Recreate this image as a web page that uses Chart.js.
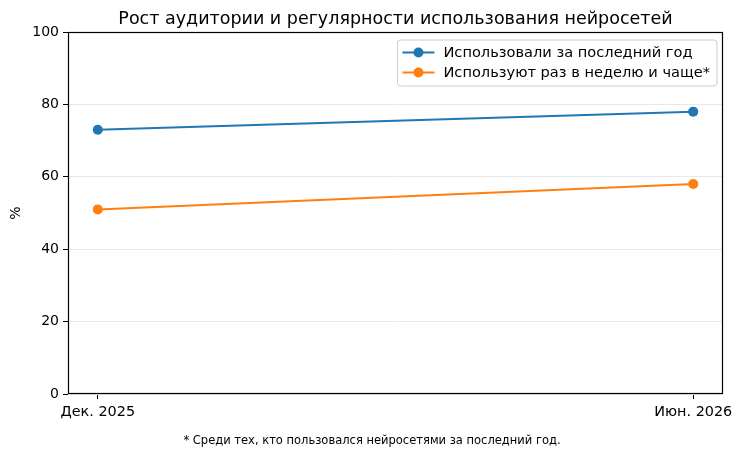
<!DOCTYPE html>
<html>
<head>
<meta charset="utf-8">
<script src="https://cdn.jsdelivr.net/npm/chart.js@4"></script>
<style>
  html, body { margin: 0; padding: 0; background: #fff; }
  #wrap { width: 744px; height: 457px; }
</style>
</head>
<body>
<div id="wrap"><canvas id="chart"></canvas></div>
<script>
const periods = ["Дек. 2025", "Июн. 2026"];
const usedLastYear = [73, 78];
const usedWeekly = [51, 58];
const yTicks = [0, 20, 40, 60, 80, 100];
const seriesNames = ["Использовали за последний год", "Используют раз в неделю и чаще*"];
const chartTitle = "Рост аудитории и регулярности использования нейросетей";
const footnote = "* Среди тех, кто пользовался нейросетями за последний год.";

const FONT = "'DejaVu Sans', sans-serif";
const colors = ["#1f77b4", "#ff7f0e"];

const toPoints = (vals) => vals.map((v, i) => ({ x: i, y: v }));

// title over the plot, frame, legend inside the plot and footnote, matplotlib style
const extras = {
  id: "extras",
  afterDraw(chart) {
    const { ctx, chartArea: a } = chart;
    ctx.save();
    ctx.fillStyle = "#000";
    ctx.font = "17.5px " + FONT;
    ctx.textAlign = "center";
    ctx.textBaseline = "alphabetic";
    ctx.fillText(chartTitle, (a.left + a.right) / 2, 24);

    ctx.strokeStyle = "#000";
    ctx.lineWidth = 1.2;
    ctx.strokeRect(a.left + 0.5, a.top + 0.5, a.right - a.left - 1, a.bottom - a.top - 1);

    ctx.font = "14.6px " + FONT;
    const textW = Math.max(...seriesNames.map(s => ctx.measureText(s).width));
    const w = textW + 53, h = 46;
    const x = a.right - 6 - w, y = a.top + 8;
    ctx.fillStyle = "rgba(255,255,255,0.8)";
    ctx.strokeStyle = "#cccccc";
    ctx.lineWidth = 1;
    ctx.beginPath();
    ctx.roundRect(x, y, w, h, 3);
    ctx.fill();
    ctx.stroke();
    seriesNames.forEach((name, i) => {
      const cy = y + 12.5 + i * 20;
      ctx.strokeStyle = colors[i];
      ctx.lineWidth = 2;
      ctx.beginPath();
      ctx.moveTo(x + 5, cy);
      ctx.lineTo(x + 37, cy);
      ctx.stroke();
      ctx.fillStyle = colors[i];
      ctx.beginPath();
      ctx.arc(x + 21, cy, 5, 0, Math.PI * 2);
      ctx.fill();
      ctx.fillStyle = "#000";
      ctx.textBaseline = "middle";
      ctx.textAlign = "left";
      ctx.fillText(name, x + 46, cy + 1);
    });

    ctx.font = "11.5px " + FONT;
    ctx.textAlign = "center";
    ctx.textBaseline = "alphabetic";
    ctx.fillStyle = "#000";
    ctx.fillText(footnote, chart.width / 2, 444);
    ctx.restore();
  }
};

new Chart(document.getElementById("chart"), {
  type: "line",
  data: {
    datasets: [
      { label: seriesNames[0], data: toPoints(usedLastYear) },
      { label: seriesNames[1], data: toPoints(usedWeekly) }
    ].map((d, i) => ({
      ...d,
      borderColor: colors[i],
      backgroundColor: colors[i],
      borderWidth: 2,
      pointRadius: 5,
      pointHoverRadius: 5,
      pointBorderWidth: 0,
      tension: 0
    }))
  },
  options: {
    responsive: true,
    maintainAspectRatio: false,
    animation: false,
    layout: { padding: { left: 0, right: 21, top: 32, bottom: 0 } },
    plugins: {
      legend: { display: false },
      tooltip: { enabled: false },
      title: { display: false }
    },
    scales: {
      x: {
        type: "linear",
        min: -0.05,
        max: periods.length - 1 + 0.05,
        afterBuildTicks: (s) => { s.ticks = periods.map((_, i) => ({ value: i })); },
        afterFit: (s) => { s.height = 63; },
        ticks: {
          color: "#000",
          font: { family: FONT, size: 14.4 },
          padding: 5,
          maxRotation: 0,
          callback: (v) => periods[v]
        },
        grid: { drawOnChartArea: false, tickColor: "#000", tickLength: 5 },
        border: { display: false }
      },
      y: {
        min: 0,
        max: 100,
        afterBuildTicks: (s) => { s.ticks = yTicks.map(v => ({ value: v })); },
        afterFit: (s) => { s.width = 68; },
        title: {
          display: true,
          text: "%",
          color: "#000",
          font: { family: FONT, size: 14 },
          padding: { top: 8, bottom: 0 }
        },
        ticks: { color: "#000", font: { family: FONT, size: 14 }, padding: 4 },
        grid: { color: "#e8e8e8", tickColor: "#000", tickLength: 5 },
        border: { display: false }
      }
    }
  },
  plugins: [extras]
});
</script>
</body>
</html>
